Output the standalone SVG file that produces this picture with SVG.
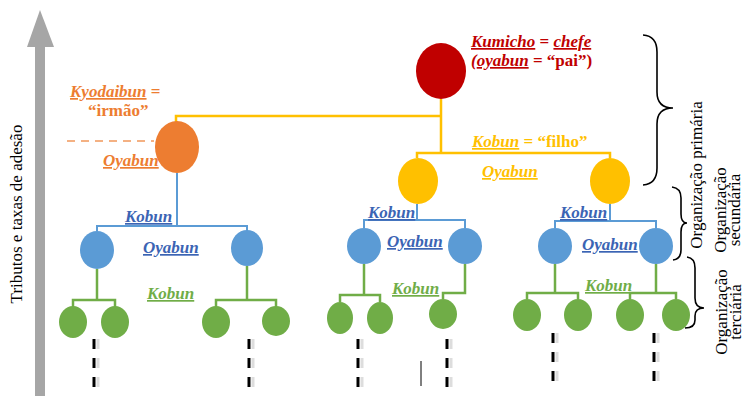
<svg xmlns="http://www.w3.org/2000/svg" width="744" height="396" viewBox="0 0 744 396">
<style>
.lbl{font-family:"Liberation Serif","Times New Roman",serif;font-size:17px;font-weight:bold}
.it{font-style:italic;text-decoration:underline}
.side{font-family:"Liberation Serif","Times New Roman",serif;font-size:17px;fill:#000}
.red{fill:#C00000}.org{fill:#ED7D31}.yel{fill:#FFC000}.blu{fill:#3B64B4}.grn{fill:#70AD47}
.cy{stroke:#FFC000;stroke-width:2.5;fill:none}
.cb{stroke:#5B9BD5;stroke-width:2;fill:none}
.cg{stroke:#70AD47;stroke-width:2.5;fill:none}
.dash{stroke:#000;stroke-width:3;stroke-dasharray:10 9;fill:none}
.dsh{stroke:#BBB;stroke-width:3;stroke-dasharray:10 9;fill:none;opacity:0.5}
.brace{stroke:#000;stroke-width:1.6;fill:none}
</style>

<g id="axis">
<rect x="35" y="44" width="10" height="352" fill="#A6A6A6"/>
<polygon points="40,10 54,47 27,47" fill="#A6A6A6"/>
<text class="side" transform="translate(22,214) rotate(-90)" text-anchor="middle">Tributos e taxas de adesão</text>
</g>

<g id="connectors">
<path class="cy" d="M176,122 V116 H441 M441,99 V153 M417,158 V153 H610 V158"/>
<path d="M67,141 H154" stroke="#F4B183" stroke-width="2" stroke-dasharray="8 6" fill="none"/>
<path class="cb" d="M177,173 V226 M97,231 V226 H247 V231"/>
<path class="cb" d="M417,204 V220 M364,228 V220 H465 V228"/>
<path class="cb" d="M610,204 V221 M555,228 V221 H656 V228"/>
<path class="cg" d="M97,269 V300 M73,307 V300 H115 V307"/>
<path class="cg" d="M247,266 V300 M216,307 V300 H276 V307"/>
<path class="cg" d="M364,264 V295 M340,302 V295 H380 V302"/>
<path class="cg" d="M465,264 V293 H443 V299"/>
<path class="cg" d="M555,264 V293 M527,299 V293 H578 V299"/>
<path class="cg" d="M656,264 V293 M630,299 V293 H676 V299"/>
<path class="dsh" d="M98,339 V396 M253,339 V396 M362,339 V396 M451,339 V396 M557,333 V390 M658,333 V390"/>
<path class="dash" d="M94,339 V396 M249,339 V396 M358,339 V396 M447,339 V396 M553,333 V390 M654,333 V390"/>
<path d="M421,361 V386" stroke="#000" stroke-width="1" fill="none"/>
</g>

<g id="kumicho">
<ellipse cx="441" cy="71" rx="25" ry="28" fill="#C00000"/>
<text class="lbl red" x="471" y="47"><tspan class="it">Kumicho</tspan> = <tspan class="it">chefe</tspan></text>
<text class="lbl red" x="471" y="66"><tspan font-style="italic">(</tspan><tspan class="it">oyabun</tspan> = “pai”)</text>
</g>

<g id="kyodaibun">
<ellipse cx="177" cy="147" rx="22" ry="26" fill="#ED7D31"/>
<text class="lbl org" x="70" y="97"><tspan class="it">Kyodaibun</tspan> =</text>
<text class="lbl org" x="88" y="116">“irmão”</text>
<text class="lbl org it" x="103" y="166">Oyabun</text>
</g>

<g id="kobun-yellow">
<ellipse cx="418" cy="181" rx="20" ry="23" fill="#FFC000"/>
<ellipse cx="610" cy="181" rx="20" ry="23" fill="#FFC000"/>
<text class="lbl yel" x="472" y="147"><tspan class="it">Kobun</tspan> = “filho”</text>
<text class="lbl yel it" x="482" y="177">Oyabun</text>
</g>

<g id="blue-left">
<ellipse cx="97" cy="250" rx="17" ry="19" fill="#5B9BD5"/>
<ellipse cx="247" cy="248" rx="16" ry="18" fill="#5B9BD5"/>
<text class="lbl blu it" x="125" y="222">Kobun</text>
<text class="lbl blu it" x="143" y="253">Oyabun</text>
</g>

<g id="blue-middle">
<ellipse cx="364" cy="246" rx="17" ry="18" fill="#5B9BD5"/>
<ellipse cx="465" cy="246" rx="17" ry="18" fill="#5B9BD5"/>
<text class="lbl blu it" x="368" y="218">Kobun</text>
<text class="lbl blu it" x="387" y="247">Oyabun</text>
</g>

<g id="blue-right">
<ellipse cx="555" cy="246" rx="17" ry="18" fill="#5B9BD5"/>
<ellipse cx="656" cy="246" rx="17" ry="18" fill="#5B9BD5"/>
<text class="lbl blu it" x="560" y="218">Kobun</text>
<text class="lbl blu it" x="582" y="250">Oyabun</text>
</g>

<g id="green-left">
<ellipse cx="73" cy="322" rx="14" ry="16" fill="#70AD47"/>
<ellipse cx="115" cy="322" rx="14" ry="16" fill="#70AD47"/>
<ellipse cx="216" cy="322" rx="14" ry="16" fill="#70AD47"/>
<ellipse cx="276" cy="321" rx="14" ry="15" fill="#70AD47"/>
<text class="lbl grn it" x="147" y="299">Kobun</text>
</g>

<g id="green-middle">
<ellipse cx="340" cy="318" rx="13" ry="16" fill="#70AD47"/>
<ellipse cx="380" cy="318" rx="13" ry="16" fill="#70AD47"/>
<ellipse cx="443" cy="314" rx="14" ry="15" fill="#70AD47"/>
<text class="lbl grn it" x="392" y="294">Kobun</text>
</g>

<g id="green-right">
<ellipse cx="527" cy="315" rx="14" ry="16" fill="#70AD47"/>
<ellipse cx="578" cy="315" rx="14" ry="16" fill="#70AD47"/>
<ellipse cx="630" cy="315" rx="14" ry="16" fill="#70AD47"/>
<ellipse cx="676" cy="315" rx="14" ry="16" fill="#70AD47"/>
<text class="lbl grn it" x="585" y="291">Kobun</text>
</g>

<g id="brackets">
<path class="brace" d="M643,35 Q657,36 657,52 V92 Q657,108 673,108 Q657,108 657,124 V168 Q657,184 643,185"/>
<path class="brace" d="M672,187 Q681,188 681,198 V214 Q681,223 687,223 Q681,223 681,232 V250 Q681,259 673,260"/>
<path class="brace" d="M687,257 Q695,258 695,268 V298 Q695,308 704,308 Q695,308 695,316 V320 Q695,328 685,328"/>
<text class="side" transform="translate(702,175) rotate(-90)" text-anchor="middle">Organização primária</text>
<text class="side" transform="translate(726,210) rotate(-90)" text-anchor="middle">Organização</text>
<text class="side" transform="translate(740,210) rotate(-90)" text-anchor="middle">secundária</text>
<text class="side" transform="translate(727,312) rotate(-90)" text-anchor="middle">Organização</text>
<text class="side" transform="translate(741,312) rotate(-90)" text-anchor="middle">terciária</text>
</g>
</svg>
